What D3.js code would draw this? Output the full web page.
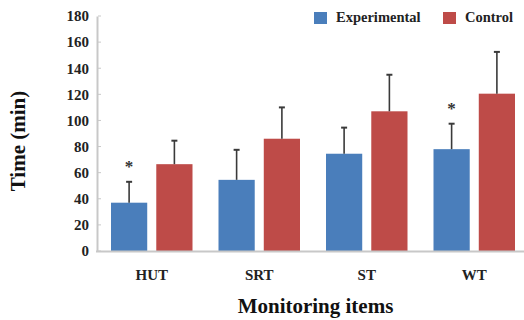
<!DOCTYPE html>
<html><head><meta charset="utf-8">
<script src="https://cdn.jsdelivr.net/npm/d3@7"></script>
<style>body{margin:0;background:#fff}svg{display:block}</style>
</head><body>
<svg id="c" width="524" height="320"></svg>
<script>
const categories = ["HUT", "SRT", "ST", "WT"];
const seriesNames = ["Experimental", "Control"];
const experimental = [37, 54.5, 74.5, 78];
const experimentalErr = [16, 23, 20, 19.5];
const control = [66.5, 86, 107, 120.5];
const controlErr = [18, 24, 28, 32];
const significant = [true, false, false, true];
const yTicks = [0, 20, 40, 60, 80, 100, 120, 140, 160, 180];

const colors = {Experimental: "#4a7ebb", Control: "#be4b48"};
const svg = d3.select("#c");
const font = "'Liberation Serif','Times New Roman',serif";

const y = d3.scaleLinear().domain([0, 180]).range([251, 16]);
const x0 = d3.scaleBand().domain(categories).range([98, 528]).paddingInner(0).paddingOuter(0);
const x1 = d3.scaleBand().domain(seriesNames).range([13, x0.bandwidth() - 13]).paddingInner(0.2);

// axes
const yAxis = d3.axisLeft(y).tickValues(yTicks).tickSize(0).tickPadding(8);
const gy = svg.append("g").attr("transform", "translate(97,0)").call(yAxis);
gy.select(".domain").attr("stroke", "#c8c8c8").attr("stroke-width", 2);
gy.selectAll("text").attr("font-family", font).attr("font-weight", "bold").attr("font-size", 15).attr("fill", "#222");
svg.append("g").selectAll("line").data(yTicks).join("line")
  .attr("x1", 98).attr("x2", 101).attr("y1", d => y(d)).attr("y2", d => y(d))
  .attr("stroke", "#c8c8c8").attr("stroke-width", 1);

const data = categories.map((c, i) => ({
  cat: c,
  vals: [
    {s: "Experimental", v: experimental[i], e: experimentalErr[i], sig: significant[i]},
    {s: "Control", v: control[i], e: controlErr[i], sig: false}
  ]
}));

const groups = svg.append("g").selectAll("g").data(data).join("g")
  .attr("transform", d => `translate(${x0(d.cat)},0)`);

groups.selectAll("rect").data(d => d.vals).join("rect")
  .attr("x", d => x1(d.s)).attr("width", x1.bandwidth())
  .attr("y", d => y(d.v)).attr("height", d => y(0) - y(d.v))
  .attr("fill", d => colors[d.s]);

groups.selectAll("line.err").data(d => d.vals).join("line").attr("class", "err")
  .attr("x1", d => x1(d.s) + x1.bandwidth() / 2).attr("x2", d => x1(d.s) + x1.bandwidth() / 2)
  .attr("y1", d => y(d.v)).attr("y2", d => y(d.v + d.e))
  .attr("stroke", "#3a3a3a").attr("stroke-width", 1.6);
groups.selectAll("line.cap").data(d => d.vals).join("line").attr("class", "cap")
  .attr("x1", d => x1(d.s) + x1.bandwidth() / 2 - 3).attr("x2", d => x1(d.s) + x1.bandwidth() / 2 + 3)
  .attr("y1", d => y(d.v + d.e)).attr("y2", d => y(d.v + d.e))
  .attr("stroke", "#3a3a3a").attr("stroke-width", 2);

groups.selectAll("text.sig").data(d => d.vals.filter(v => v.sig)).join("text").attr("class", "sig")
  .attr("x", d => x1(d.s) + x1.bandwidth() / 2).attr("y", d => y(d.v + d.e) - 10)
  .attr("text-anchor", "middle").attr("font-family", font).attr("font-weight", "bold")
  .attr("font-size", 17).attr("fill", "#333").text("*");

// x axis line
svg.append("line").attr("x1", 96).attr("x2", 528).attr("y1", y(0) + 0.5).attr("y2", y(0) + 0.5)
  .attr("stroke", "#c8c8c8").attr("stroke-width", 2);

// category labels
svg.append("g").selectAll("text").data(categories).join("text")
  .attr("x", d => x0(d) + x0.bandwidth() / 2).attr("y", 280)
  .attr("text-anchor", "middle").attr("font-family", font).attr("font-weight", "bold")
  .attr("font-size", 15).attr("fill", "#222").text(d => d);

// axis titles
svg.append("text").attr("x", 315.5).attr("y", 313).attr("text-anchor", "middle")
  .attr("font-family", font).attr("font-weight", "bold").attr("font-size", 21).attr("fill", "#111")
  .text("Monitoring items");
svg.append("text").attr("transform", "translate(25,141) rotate(-90)").attr("text-anchor", "middle")
  .attr("font-family", font).attr("font-weight", "bold").attr("font-size", 21).attr("fill", "#111")
  .text("Time (min)");

// legend
const legendX = [314, 443];
const lg = svg.append("g").selectAll("g").data(seriesNames).join("g")
  .attr("transform", (d, i) => `translate(${legendX[i]},12)`);
lg.append("rect").attr("width", 13).attr("height", 12).attr("fill", d => colors[d]);
lg.append("text").attr("x", 22).attr("y", 10).attr("font-family", font).attr("font-weight", "bold")
  .attr("font-size", 14.5).attr("fill", "#222").text(d => d);
</script>
</body></html>
